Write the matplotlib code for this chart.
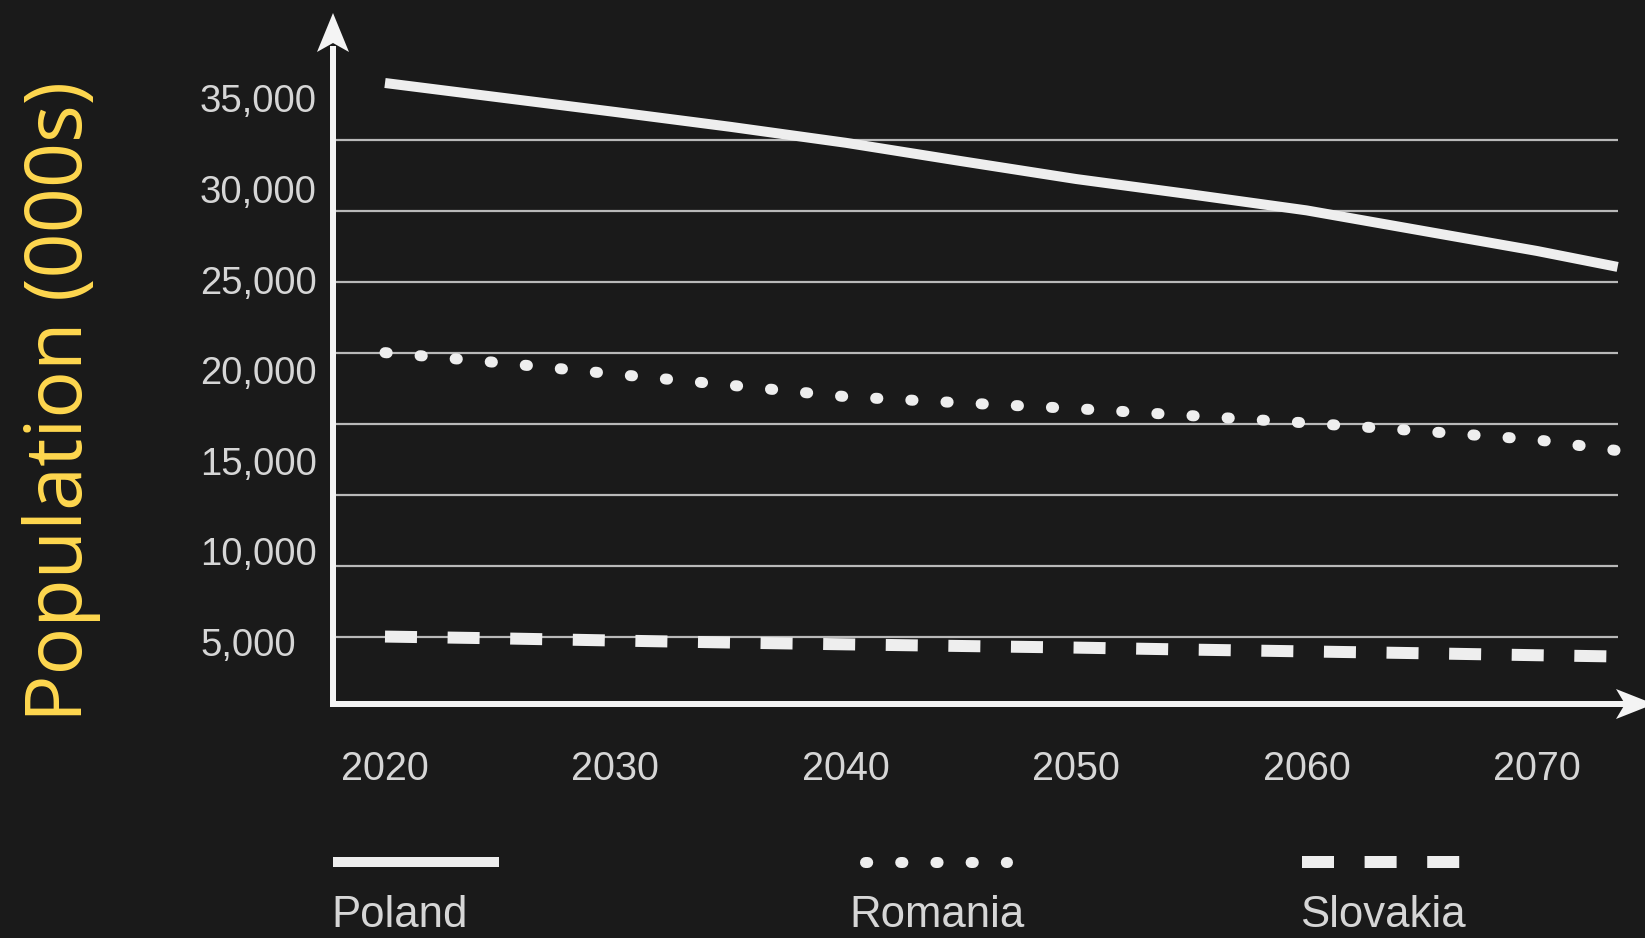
import numpy as np
import matplotlib
matplotlib.use("Agg")
import matplotlib.pyplot as plt
import matplotlib.transforms as mtransforms
from matplotlib.lines import Line2D
from matplotlib.patches import Polygon

# ---- data (population, thousands) ----
years = [2020, 2025, 2030, 2035, 2040, 2045, 2050, 2055, 2060, 2065, 2070, 2073.5]
poland = [35850, 35050, 34250, 33430, 32550, 31540, 30550, 29700, 28820, 27700, 26580, 25700]
romania = [20970, 20410, 19780, 19170, 18540, 18200, 17880, 17490, 17090, 16640, 16160, 15560]
slovakia = [5300, 5200, 5080, 4970, 4870, 4780, 4690, 4580, 4480, 4380, 4270, 4200]

countries = ["Poland", "Romania", "Slovakia"]
year_ticks = [2020, 2030, 2040, 2050, 2060, 2070]
value_ticks = [5000, 10000, 15000, 20000, 25000, 30000, 35000]
y_title = "Population (000s)"

# ---- look ----
W, H, DPI = 1645, 938, 100
BG = "#1a1a1a"
INK = "#eeeeee"
LABEL = "#d6d6d6"
GRID = "#b9b9b9"
YELLOW = "#ffd84f"
FONT = ["Liberation Sans", "DejaVu Sans"]


def pt(px):
    return px * 72.0 / DPI


styles = {
    "Poland": dict(color=INK, lw=pt(10), solid_capstyle="butt"),
    "Romania": dict(color=INK, lw=pt(11), dashes=(0.2, 3.0), dash_capstyle="round"),
    "Slovakia": dict(color=INK, lw=pt(12), dashes=(2.667, 2.55), dash_capstyle="butt"),
}
series = {"Poland": poland, "Romania": romania, "Slovakia": slovakia}

plt.rcParams["font.family"] = FONT

fig = plt.figure(figsize=(W / DPI, H / DPI), dpi=DPI, facecolor=BG)

# plot frame in pixels (from top-left)
left, right, top, bottom = 333, 1618, 13, 704
ax = fig.add_axes([left / W, (H - bottom) / H, (right - left) / W, (bottom - top) / H])
ax.set_facecolor(BG)
for s in ax.spines.values():
    s.set_visible(False)

# scales: 2020 sits at x=385 px, 10 years = 230.4 px; 5,000 at y=642 px, 5,000 units = 90.6 px
px_per_year = 23.04
x0_px, x0_year = 385, 2020
ax.set_xlim(x0_year - (x0_px - left) / px_per_year, x0_year + (right - x0_px) / px_per_year)
px_per_unit = 90.6 / 5000
y0_px, y0_val = 642, 5000
ax.set_ylim(y0_val - (bottom - y0_px) / px_per_unit, y0_val + (y0_px - top) / px_per_unit)

# decorative horizontal rules, evenly spaced
grid_fracs = (bottom - 636.8) / (bottom - top) + np.arange(8) * 71.0 / (bottom - top)
for f in grid_fracs:
    ax.plot([0, 1], [f, f], transform=ax.transAxes, color=GRID, lw=pt(2.2), zorder=1,
            solid_capstyle="butt")

for name in countries:
    ax.plot(years, series[name], zorder=3, clip_on=False, **styles[name])

ax.set_xticks(year_ticks)
ax.set_xticklabels([str(y) for y in year_ticks], fontsize=28.5, color=LABEL)
ax.set_yticks(value_ticks)
ax.set_yticklabels([f"{v:,}" for v in value_ticks], fontsize=27.5, color=LABEL, ha="left")
ax.tick_params(axis="x", length=0, pad=33)
ax.tick_params(axis="y", length=0, pad=pt(left - 200))

# axis arrows in pixel coordinates (origin top-left)
px = mtransforms.Affine2D().scale(1, -1).translate(0, H)
fig.add_artist(Line2D([left, left], [bottom + 3, 46], transform=px, color="#f4f4f4",
                      lw=pt(6), solid_capstyle="butt"))
fig.add_artist(Polygon([[left, 13], [left - 16, 52], [left, 43], [left + 16, 52]],
                       closed=True, transform=px, facecolor="#f4f4f4", edgecolor="none"))
fig.add_artist(Line2D([left - 3, 1625], [bottom, bottom], transform=px, color="#f4f4f4",
                      lw=pt(6), solid_capstyle="butt"))
fig.add_artist(Polygon([[1654, bottom], [1616, bottom - 15], [1625, bottom], [1616, bottom + 15]],
                       closed=True, transform=px, facecolor="#f4f4f4", edgecolor="none"))

# legend row: sample line above each country name
legend_samples = {"Poland": (333, 499), "Romania": (865, 1007), "Slovakia": (1302, 1460)}
legend_text_x = {"Poland": 331, "Romania": 849, "Slovakia": 1300}
for name in countries:
    x_a, x_b = legend_samples[name]
    st = dict(styles[name])
    fig.add_artist(Line2D([x_a, x_b], [862, 862], transform=px, **st))
    fig.text(legend_text_x[name], 927, name, transform=px, fontsize=31.5, color=LABEL,
             ha="left", va="baseline")

# vertical axis title
fig.text(62, 401, y_title, transform=px, rotation=90, ha="center", va="center",
         fontsize=57, color=YELLOW, family=["Open Sans", "DejaVu Sans"])

fig.savefig("out.png", dpi=DPI, facecolor=BG)
